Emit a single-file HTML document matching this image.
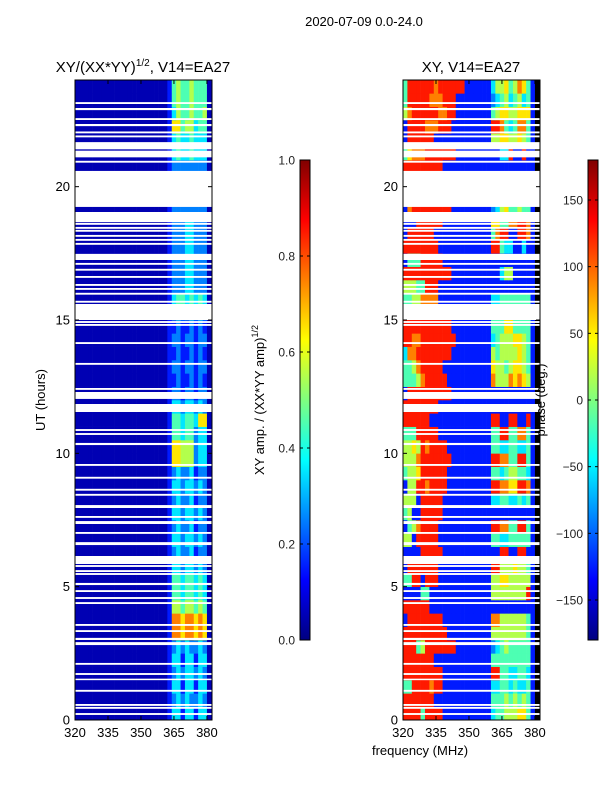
<!DOCTYPE html>
<html><head><meta charset="utf-8"><style>
html,body{margin:0;padding:0;background:#fff;}
svg{display:block;font-family:"Liberation Sans","DejaVu Sans",sans-serif;}
</style></head><body>
<svg id="fig" width="600" height="800" viewBox="0 0 600 800">
<defs>
<linearGradient id="jet" x1="0" y1="1" x2="0" y2="0">
<stop offset="0" stop-color="#000080"/><stop offset="0.125" stop-color="#0000ff"/>
<stop offset="0.375" stop-color="#00ffff"/><stop offset="0.625" stop-color="#ffff00"/>
<stop offset="0.875" stop-color="#ff0000"/><stop offset="1" stop-color="#800000"/>
</linearGradient>
</defs>
<text x="364" y="26" font-size="13" text-anchor="middle">2020-07-09 0.0-24.0</text>
<text x="143" y="72" font-size="15" text-anchor="middle">XY/(XX*YY)<tspan font-size="10" dy="-6">1/2</tspan><tspan dy="6">, V14=EA27</tspan></text>
<text x="471" y="72" font-size="15" text-anchor="middle">XY, V14=EA27</text>
<text x="45" y="400" font-size="13" text-anchor="middle" transform="rotate(-90 45 400)">UT (hours)</text>
<text x="420" y="755" font-size="13" text-anchor="middle">frequency (MHz)</text>
<text x="264" y="400" font-size="13" text-anchor="middle" transform="rotate(-90 264 400)">XY amp. / (XX*YY amp)<tspan font-size="9" dy="-6">1/2</tspan></text>
<g id="ampPanel"></g>
<g id="phPanel"></g>
<text x="545" y="400" font-size="13" text-anchor="middle" transform="rotate(-90 545 400)">phase (deg.)</text>
<g id="cb1"></g>
<g id="cb2"></g>
</svg>
<script>
// ---- data ----
const freqStart = 320, freqBin = 2, nFreq = 31;   // 320..382 MHz
const hourBin = 0.5;                              // rows of 0.5 h
const xTicks = [320, 335, 350, 365, 380];
const yTicks = [0, 5, 10, 15, 20];
const ampTicks = [0.0, 0.2, 0.4, 0.6, 0.8, 1.0];
const phaseTicks = [-150, -100, -50, 0, 50, 100, 150];
// amplitude band (362-382 MHz) per 0.5h row, row 0 = 0-0.5h ; digit d -> 0.05+0.1*d
const ampBand = [
"1331331330","1232322320","1331331330","1232332320","1331331330","1232322320",
"1776776760","1776776760","1554554540","1443443430","1443443430",
"1332332320","1232231220","1332332320","1232231220","1332332320","1232231220","1332332320","1232231220",
"1665552330","1665552330","1443442330","1443443660","1332332320",
"1221221220","1121121210","1221221220","1121121210","1221221220","1121121210",
"1443443430","1344343430",
"1222332220","1222332220","1222332220","1222332220","1222332220","1222332220",
"1222222220","1222222220","1222222220","1222222220",
"1343343330","1343343330","1664553440","1354454450","1454454440","1454454440"];
// phase per 0.5h row (31 freq bins), digit d -> -180+360*(0.05+0.1*d)
const phaseRows = [
"888848888111111111113445556641","888888811111111111114445454541","448888788111111111113344343341",
"888888888111111111118844334431","888888811111111111114444444441","888458888888111111112345444441",
"888888888811111111115555555541","188888888111111111117755555541","888888111111111111111111111111",
"111144111111111111115555555581","448818881111111111115566555551","188888881111111111118855565541",
"111188888111111111111188118811","551888881111111111114433444441","145788881111111111118877448841",
"451188888111111111111111111111","555188888111111111113344334341","155887888811111111118877668871",
"455688888811111111114434554431","555788888881111111118877448841","556587888811111111114433443341",
"444888881111111111114488447741","888888111111111111118811881181","888888881111111111111111111111",
"188888888881111111111111111111","444578888811111111117555767651","445788888111111111116554566541",
"377888888881111111115455556541","887788888888111111113455566541","888888888881111111114446644441",
"888888888881111111114446644441","445577771111111111113344444441","555448881111111111111111111111",
"888888888881111111111135511111","144488888111111111111111111111","888888881111111111118843311311",
"188888811111111111114788118871","111888888111111111116644778871","178888888881111111112356445441",
"178888888881111111112356445441","888888888111111111111111111111","888888888111111111111111111111",
"467778888888111111111133811811","188888811111111111115566556541","188887778881111111118874347741",
"578888887788111111114566556661","488888777888111111112345345341","488888878888881111113556457641"];
// flagged (blank) time intervals, hours
const flagStart = [23.10,22.87,22.50,22.27,22.00,21.85,21.40,21.10,20.90,19.24,18.67,18.57,18.42,18.31,18.12,17.97,17.82,17.25,17.07,16.85,16.58,16.28,16.13,15.95,15.65,15.00,14.89,14.78,14.10,13.32,12.38,12.04,11.55,10.84,10.69,10.31,9.53,9.05,8.60,8.41,7.95,7.58,7.35,6.98,6.56,5.85,5.74,5.55,5.44,5.06,4.80,4.54,4.35,3.53,3.30,3.00,2.81,2.07,1.69,1.50,1.06,0.53,0.42,0.19];
const flagEnd   = [23.17,22.95,22.57,22.35,22.07,21.92,21.67,21.35,20.97,20.59,19.05,18.64,18.49,18.38,18.19,18.04,17.89,17.48,17.14,16.92,16.65,16.35,16.20,16.02,15.72,15.60,14.96,14.85,14.17,13.39,12.45,12.30,11.85,10.91,10.76,10.39,9.60,9.12,8.67,8.48,8.06,7.65,7.46,7.05,6.67,6.15,5.81,5.62,5.51,5.14,4.87,4.61,4.42,3.60,3.37,3.08,2.92,2.14,1.76,1.55,1.13,0.60,0.49,0.26];

// ---- helpers ----
const NS = "http://www.w3.org/2000/svg";
function mk(tag, attrs, parent){const e=document.createElementNS(NS,tag);for(const k in attrs)e.setAttribute(k,attrs[k]);parent.appendChild(e);return e;}
function jet(v){v=Math.max(0,Math.min(1,v));
 const r=Math.max(0,Math.min(1,1.5-Math.abs(4*v-3))),g=Math.max(0,Math.min(1,1.5-Math.abs(4*v-2))),b=Math.max(0,Math.min(1,1.5-Math.abs(4*v-1)));
 return `rgb(${Math.round(r*255)},${Math.round(g*255)},${Math.round(b*255)})`;}
const PY0=80, PY1=720, HMAX=24, FMAX=382.3;
function yScale(h){return PY1-(h/HMAX)*(PY1-PY0);}
function makeX(x0,x1){return f=>x0+(f-freqStart)/(FMAX-freqStart)*(x1-x0);}

function drawPanel(g, x0, x1, rowVal, panelName){
 const xs=makeX(x0,x1);
 for(let r=0;r<rowVal.length;r++){
  for(let c=0;c<nFreq;c++){
   const v=rowVal[r](c);
   const xa=xs(freqStart+c*freqBin), xb=Math.min(x1,xs(freqStart+(c+1)*freqBin));
   const ya=yScale((r+1)*hourBin), yb=yScale(r*hourBin);
   const rc=mk('rect',{x:xa.toFixed(2),y:ya.toFixed(2),width:(xb-xa+0.3).toFixed(2),height:(yb-ya+0.3).toFixed(2),fill:jet(v)},g);
   
   
  }
 }
 for(let i=0;i<flagStart.length;i++){
  const ya=yScale(flagEnd[i]), yb=yScale(flagStart[i]);
  const fr=mk('rect',{x:x0,y:ya.toFixed(2),width:x1-x0,height:Math.max(1.5,yb-ya).toFixed(2),fill:'#fff'},g);
  
  
 }
 mk('rect',{x:x0,y:PY0,width:x1-x0,height:PY1-PY0,fill:'none',stroke:'#000','stroke-width':1},g);
 for(const t of xTicks){const x=xs(t);
  mk('line',{x1:x,y1:PY1,x2:x,y2:PY1-4,stroke:'#000'},g);
  mk('line',{x1:x,y1:PY0,x2:x,y2:PY0+4,stroke:'#000'},g);
  const tx=mk('text',{x:x,y:PY1+17,'font-size':13,'text-anchor':'middle'},g);tx.textContent=t;
  
  
 }
 for(const t of yTicks){const y=yScale(t);
  mk('line',{x1:x0,y1:y,x2:x0+4,y2:y,stroke:'#000'},g);
  mk('line',{x1:x1,y1:y,x2:x1-4,y2:y,stroke:'#000'},g);
  const tx=mk('text',{x:x0-5,y:y+4.5,'font-size':13,'text-anchor':'end'},g);tx.textContent=t;
  
  
 }
}
const ampRows=ampBand.map(s=>c=> c<21?0.05:0.05+0.1*(+s[c-21]));
const phRows=phaseRows.map(s=>c=>0.05+0.1*(+s[c]));
drawPanel(document.getElementById('ampPanel'),75,212,ampRows,'amp');
drawPanel(document.getElementById('phPanel'),403,540,phRows,'phase');

function drawCbar(g,x,ticks,lo,hi,fmt){
 mk('rect',{x:x,y:160,width:10,height:480,fill:'url(#jet)',stroke:'#000','stroke-width':1},g);
 for(const t of ticks){const y=640-(t-lo)/(hi-lo)*480;
  mk('line',{x1:x,y1:y,x2:x+3,y2:y,stroke:'#000'},g);
  mk('line',{x1:x+10,y1:y,x2:x+7,y2:y,stroke:'#000'},g);
  const tx=mk('text',{x:x-5,y:y+4.5,'font-size':12,'text-anchor':'end',fill:'#222'},g);tx.textContent=fmt(t);
  
  
 }
}
drawCbar(document.getElementById('cb1'),300,ampTicks,0,1,t=>t.toFixed(1));
drawCbar(document.getElementById('cb2'),588,phaseTicks,-180,180,t=>t<0?'\u2212'+(-t):String(t));
</script>
</body></html>
